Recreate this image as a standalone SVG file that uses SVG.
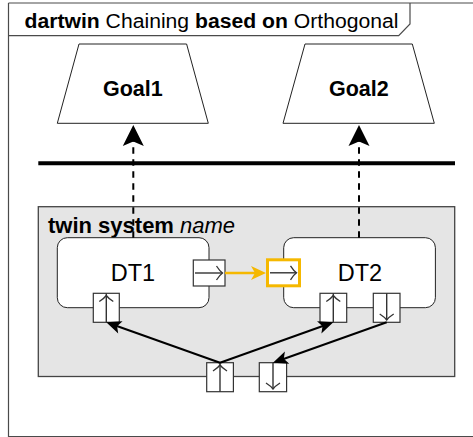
<svg xmlns="http://www.w3.org/2000/svg" width="473" height="437" viewBox="0 0 473 437">
<style>
.frame{fill:none;stroke:#4a4a4a;stroke-width:1.2}
.goal{fill:#fff;stroke:#222;stroke-width:1}
.lbl{font-family:"Liberation Sans",Arial,sans-serif;fill:#000}
.b{font-weight:bold}
.dt{fill:#fff;stroke:#222;stroke-width:1}
.port{fill:#fff;stroke:#333;stroke-width:1.2}
.pline{stroke:#333;stroke-width:1.4;fill:none}
.chev{fill:none;stroke:#333;stroke-width:1.3}
.dash{fill:none;stroke:#000;stroke-width:2;stroke-dasharray:6.5,5.5}
.blk{fill:none;stroke:#000;stroke-width:2}
.yel{fill:none;stroke:#F5B800;stroke-width:2.7}
</style>
<defs>
<marker id="bigArrow" markerUnits="userSpaceOnUse" viewBox="-22 -12 34 24" refX="-10" refY="0" markerWidth="34" markerHeight="24" orient="auto">
<path d="M0,0 L-21,-10.5 L-16.5,0 L-21,10.5 Z" fill="#000"/>
</marker>
<marker id="smallArrow" markerUnits="userSpaceOnUse" viewBox="-16 -8 24 16" refX="-6" refY="0" markerWidth="24" markerHeight="16" orient="auto">
<path d="M0,0 L-15,-6.5 L-11.5,0 L-15,6.5 Z" fill="#000"/>
</marker>
<marker id="yelArrow" markerUnits="userSpaceOnUse" viewBox="-16 -8 24 16" refX="-6" refY="0" markerWidth="24" markerHeight="16" orient="auto">
<path d="M0,0 L-15,-7 L-11,0 L-15,7 Z" fill="#F5B800"/>
</marker>
<path id="chev" d="M-6,-7 Q-2.8,-2 0,0 Q-2.8,2 -6,7"/>
</defs>

<g id="frame">
<path class="frame" d="M8.5,3 H480 M8.5,3 V436.5 H480"/>
<path class="frame" d="M8.5,35.7 H398.7 L410,24 V3"/>
<text class="lbl" x="24.5" y="27.5" font-size="19.5" textLength="374" lengthAdjust="spacingAndGlyphs"><tspan class="b">dartwin</tspan> Chaining <tspan class="b">based on</tspan> Orthogonal</text>
</g>

<g id="goal1">
<path class="goal" d="M79,44 H186.6 L208.3,123.3 H57.3 Z"/>
<text class="lbl b" x="132.8" y="95.5" font-size="21.5" text-anchor="middle">Goal1</text>
</g>

<g id="goal2">
<path class="goal" d="M305,44 H412.3 L434.3,123.3 H283 Z"/>
<text class="lbl b" x="358.8" y="95.5" font-size="21.5" text-anchor="middle">Goal2</text>
</g>

<g id="separator">
<line x1="38.3" y1="163.3" x2="455" y2="163.3" stroke="#000" stroke-width="4"/>
</g>

<g id="twin-system">
<rect x="38.3" y="206.7" width="416.4" height="169.8" fill="#e5e5e5" stroke="#444" stroke-width="1.3"/>
<text class="lbl" x="48" y="232.5" font-size="22"><tspan class="b">twin system</tspan> <tspan font-style="italic">name</tspan></text>
</g>

<g id="dt1">
<rect class="dt" x="57.3" y="237.7" width="151.7" height="70" rx="10"/>
<text class="lbl" x="133" y="281" font-size="23.5" text-anchor="middle">DT1</text>
</g>

<g id="dt2">
<rect class="dt" x="283.7" y="237.7" width="151.7" height="70" rx="10"/>
<text class="lbl" x="360" y="281" font-size="23.5" text-anchor="middle">DT2</text>
</g>

<g id="dt1-out">
<rect class="port" x="193.3" y="260" width="31.7" height="26"/>
<line class="pline" x1="195" y1="273" x2="222.5" y2="273"/>
<use href="#chev" class="chev" transform="translate(222.5,273)"/>
</g>

<g id="dt2-in">
<rect x="267.5" y="259.8" width="32" height="26" fill="#fff" stroke="#F5B800" stroke-width="3"/>
<line class="pline" x1="270" y1="272.8" x2="296.5" y2="272.8"/>
<use href="#chev" class="chev" transform="translate(296.5,272.8)"/>
</g>

<g id="dt1-up">
<rect class="port" x="93.3" y="293.3" width="26" height="29"/>
<line class="pline" x1="106.3" y1="293.3" x2="106.3" y2="322.3"/>
<use href="#chev" class="chev" transform="translate(106.3,295.5) rotate(-90)"/>
</g>

<g id="dt2-up">
<rect class="port" x="320" y="293.3" width="26.7" height="29"/>
<line class="pline" x1="333.3" y1="293.3" x2="333.3" y2="322.3"/>
<use href="#chev" class="chev" transform="translate(333.3,295.5) rotate(-90)"/>
</g>

<g id="dt2-down">
<rect class="port" x="373.3" y="293.3" width="26.7" height="29"/>
<line class="pline" x1="386.7" y1="293.3" x2="386.7" y2="320"/>
<use href="#chev" class="chev" transform="translate(386.7,320) rotate(90)"/>
</g>

<g id="sys-up">
<rect class="port" x="206.7" y="362.7" width="26.7" height="29"/>
<line class="pline" x1="220" y1="362.7" x2="220" y2="391.7"/>
<use href="#chev" class="chev" transform="translate(220,365) rotate(-90)"/>
</g>

<g id="sys-down">
<rect class="port" x="259.3" y="362.7" width="27.3" height="29"/>
<line class="pline" x1="273" y1="362.7" x2="273" y2="389"/>
<use href="#chev" class="chev" transform="translate(273,389) rotate(90)"/>
</g>

<g id="connectors">
<line class="dash" x1="133.3" y1="237.7" x2="133.3" y2="135" marker-end="url(#bigArrow)"/>
<line class="dash" x1="359" y1="237.7" x2="359" y2="135" marker-end="url(#bigArrow)"/>
<line class="yel" x1="225" y1="273" x2="260" y2="273" marker-end="url(#yelArrow)"/>
<path class="blk" d="M220,362.7 L111.9,324.3" marker-end="url(#smallArrow)"/>
<path class="blk" d="M220,362.7 L327.7,324.3" marker-end="url(#smallArrow)"/>
<path class="blk" d="M386.7,322.3 L278.6,360.7" marker-end="url(#smallArrow)"/>
</g>
</svg>
